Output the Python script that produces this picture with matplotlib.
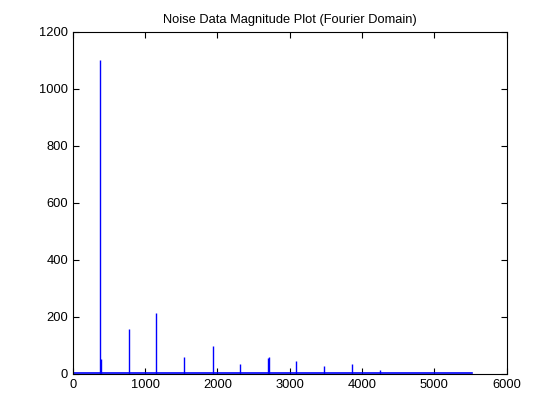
import numpy as np
import matplotlib
matplotlib.use('Agg')
import matplotlib.pyplot as plt

matplotlib.rcParams['font.family'] = ['Liberation Sans', 'DejaVu Sans']
matplotlib.rcParams['font.size'] = 9.3

# spike positions (Hz) and magnitudes
peak_freq = [378, 392, 771, 1153, 1541, 1933, 2316, 2700, 2706, 3090, 3475, 3860, 4245]
peak_mag = [1100, 52, 157, 213, 58, 97, 33, 55, 58, 45, 28, 35, 14]

# low noise floor across the spectrum
floor_freq = [0, 5512]
floor_mag = [2, 2]

fig = plt.figure(figsize=(5.6, 4.2), dpi=100)
ax = fig.add_axes([0.13, 0.11, 0.775, 0.815])

ax.plot(floor_freq, floor_mag, color='#0000ff', lw=1.2)
ax.vlines(peak_freq, 0, peak_mag, color='#0000ff', lw=1.0)

ax.set_xlim(0, 6000)
ax.set_ylim(0, 1200)
ax.set_xticks(np.arange(0, 6001, 1000))
ax.set_yticks(np.arange(0, 1201, 200))
ax.tick_params(direction='in', top=True, right=True, length=4, width=0.8)
for s in ax.spines.values():
    s.set_linewidth(0.8)
ax.set_title('Noise Data Magnitude Plot (Fourier Domain)', fontsize=9.3)

fig.savefig('out.png', dpi=100)
